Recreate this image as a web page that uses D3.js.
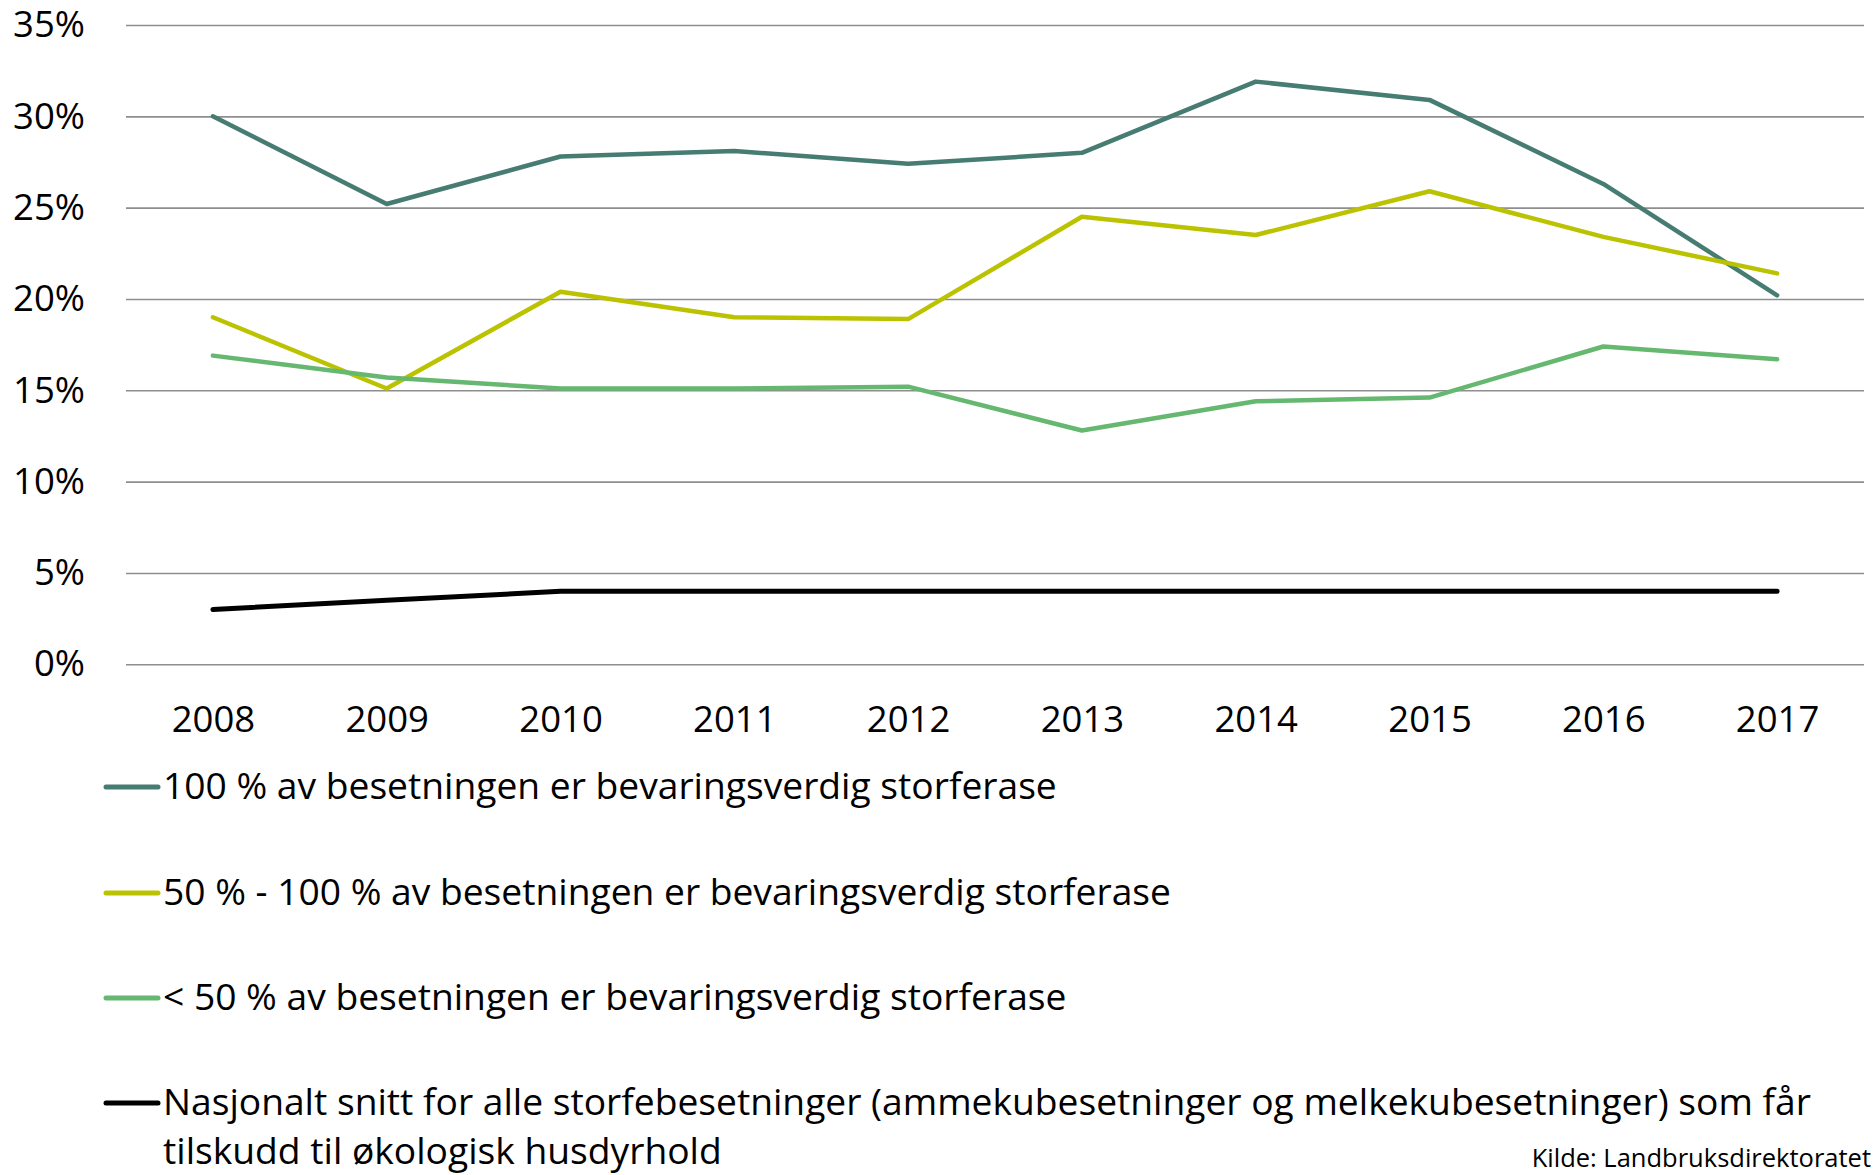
<!DOCTYPE html>
<html>
<head>
<meta charset="utf-8">
<script src="https://cdn.jsdelivr.net/npm/d3@7"></script>
<style>
  body { margin: 0; background: #fff; }
  svg text { font-family: "Open Sans", sans-serif; fill: #000; }
</style>
</head>
<body>
<div id="chart"></div>
<script>
const years = ['2008', '2009', '2010', '2011', '2012', '2013', '2014', '2015', '2016', '2017']
const full = [30.0, 25.2, 27.8, 28.1, 27.4, 28.0, 31.9, 30.9, 26.3, 20.2]
const half = [19.0, 15.1, 20.4, 19.0, 18.9, 24.5, 23.5, 25.9, 23.4, 21.4]
const under = [16.9, 15.7, 15.1, 15.1, 15.2, 12.8, 14.4, 14.6, 17.4, 16.7]
const national = [3.0, 3.5, 4.0, 4.0, 4.0, 4.0, 4.0, 4.0, 4.0, 4.0]
const yTicks = [0, 5, 10, 15, 20, 25, 30, 35]

const seriesNames = [
    ['100 % av besetningen er bevaringsverdig storferase'],
    ['50 % - 100 % av besetningen er bevaringsverdig storferase'],
    ['< 50 % av besetningen er bevaringsverdig storferase'],
    ['Nasjonalt snitt for alle storfebesetninger (ammekubesetninger og melkekubesetninger) som får',
     'tilskudd til økologisk husdyrhold']
]
const colors = ['#467c72', '#bbc300', '#66b770', '#000000']
const source = 'Kilde: Landbruksdirektoratet'

const series = [full, half, under, national]

width = 1876
height = 1175

const svg = d3.select('#chart')
    .append('svg')
    .attr('width', width)
    .attr('height', height)

let xScale = d3.scalePoint()
    .domain(years)
    .range([126, 1864])
    .padding(0.5)

let yScale = d3.scaleLinear()
    .domain([0, 35])
    .range([664.3, 25])

// gridlines + y labels
let yAxis = d3.axisLeft(yScale)
    .tickValues(yTicks)
    .tickSize(-(1864 - 126))
    .tickPadding(41)
    .tickFormat(d => d + '%')

let gy = svg.append('g')
    .attr('transform', 'translate(126, 0)')
    .call(yAxis)
gy.select('.domain').remove()
gy.selectAll('line').attr('stroke', '#8e8e8e').attr('stroke-width', 1.6)
gy.selectAll('text').style('font-size', '36.5px')

let xAxis = d3.axisBottom(xScale).tickSize(0)

let gx = svg.append('g')
    .attr('transform', 'translate(0, 664.3)')
    .call(xAxis)
gx.select('.domain').remove()
gx.selectAll('text')
    .attr('y', 68)
    .attr('dy', 0)
    .style('font-size', '36.5px')

let line = d3.line()
    .x((d, i) => xScale(years[i]))
    .y(d => yScale(d))

svg.selectAll('path.series')
    .data(series)
    .enter()
    .append('path')
    .attr('class', 'series')
    .attr('d', d => line(d))
    .attr('fill', 'none')
    .attr('stroke', (d, i) => colors[i])
    .attr('stroke-width', (d, i) => i == 3 ? 5 : 4.5)
    .attr('stroke-linejoin', 'round')
    .attr('stroke-linecap', 'round')

// legend
const rowY = [787, 893, 998, 1103]
let legend = svg.selectAll('g.legend')
    .data(seriesNames)
    .enter()
    .append('g')
    .attr('class', 'legend')
    .attr('transform', (d, i) => 'translate(0, ' + rowY[i] + ')')

legend.append('line')
    .attr('x1', 106)
    .attr('x2', 158)
    .attr('stroke', (d, i) => colors[i])
    .attr('stroke-width', 5)
    .attr('stroke-linecap', 'round')

legend.append('text')
    .attr('x', 163)
    .attr('y', 12)
    .style('font-size', '37.2px')
    .selectAll('tspan')
    .data(d => d)
    .enter()
    .append('tspan')
    .attr('x', 163)
    .attr('dy', (d, i) => i == 0 ? 0 : 49)
    .text(d => d)

svg.append('text')
    .attr('x', 1871)
    .attr('y', 1167)
    .attr('text-anchor', 'end')
    .style('font-size', '25.5px')
    .text(source)
</script>
</body>
</html>
